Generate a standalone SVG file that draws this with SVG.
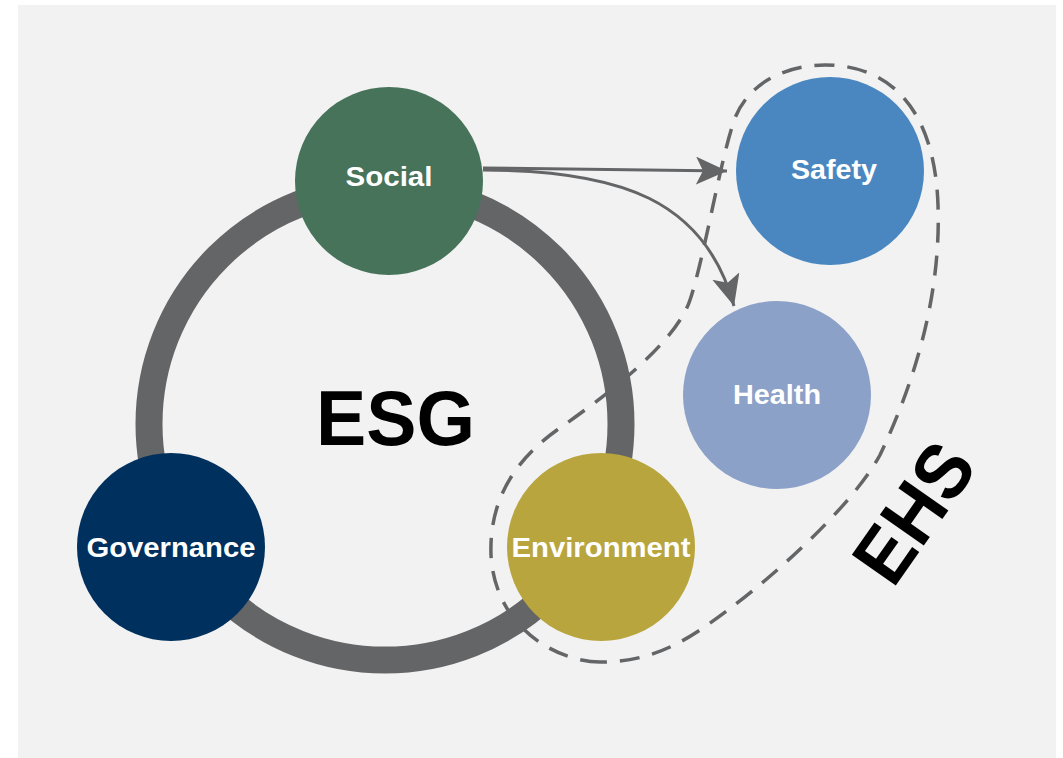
<svg xmlns="http://www.w3.org/2000/svg" width="1063" height="758" viewBox="0 0 1063 758">
  <style>
    .node-label { font-family: "Liberation Sans", Arial, sans-serif; font-weight: bold; font-size: 28px; fill: #ffffff; text-anchor: middle; }
    .big { font-family: "Liberation Sans", Arial, sans-serif; font-weight: bold; fill: #000000; text-anchor: middle; }
    .conn { fill: none; stroke: #646567; stroke-width: 3; }
    .dash { fill: none; stroke: #646567; stroke-width: 3.5; stroke-dasharray: 20 13; }
  </style>
  <defs>
    <marker id="arrow" markerUnits="userSpaceOnUse" markerWidth="34" markerHeight="30" refX="31" refY="14" orient="auto">
      <path d="M0,0 L31,14 L0,28 L7,14 Z" fill="#646567"/>
    </marker>
  </defs>
  <rect x="18" y="5" width="1038" height="753" fill="#f2f2f2"/>

  <g id="ring">
    <circle cx="385" cy="424" r="236" fill="none" stroke="#646567" stroke-width="27"/>
  </g>

  <g id="ehs-boundary">
    <path class="dash" d="M 600,662 C 560,662 495,630 491,555 C 489,500 515,460 557,430 C 600,400 675,345 690,300 C 705,255 720,160 735,118 C 750,80 790,65 825,65 C 895,65 935,115 938,205 C 941,290 918,375 880,455 C 850,510 760,590 700,630 C 670,650 640,662 600,662 Z"/>
  </g>

  <g id="connectors">
    <path class="conn" d="M 483,168 L 727,171" marker-end="url(#arrow)"/>
    <path class="conn" d="M 483,170 C 620,170 705,200 734,306" marker-end="url(#arrow)"/>
  </g>

  <g id="node-social">
    <circle cx="389" cy="181" r="94" fill="#46735a"/>
    <text class="node-label" x="389" y="186" textLength="87" lengthAdjust="spacingAndGlyphs">Social</text>
  </g>
  <g id="node-governance">
    <circle cx="171" cy="547" r="94" fill="#00305e"/>
    <text class="node-label" x="171" y="557" textLength="169" lengthAdjust="spacingAndGlyphs">Governance</text>
  </g>
  <g id="node-environment">
    <circle cx="601" cy="547" r="94" fill="#b8a53e"/>
    <text class="node-label" x="601" y="557" textLength="179" lengthAdjust="spacingAndGlyphs">Environment</text>
  </g>
  <g id="node-safety">
    <circle cx="830" cy="171" r="94" fill="#4a87c0"/>
    <text class="node-label" x="834" y="179" textLength="86" lengthAdjust="spacingAndGlyphs">Safety</text>
  </g>
  <g id="node-health">
    <circle cx="777" cy="395" r="94" fill="#8ca1c8"/>
    <text class="node-label" x="777" y="404" textLength="88" lengthAdjust="spacingAndGlyphs">Health</text>
  </g>

  <g id="label-esg">
    <text class="big" x="395.5" y="445" font-size="78" textLength="159" lengthAdjust="spacingAndGlyphs">ESG</text>
  </g>
  <g id="label-ehs">
    <text class="big" x="0" y="0" font-size="78" textLength="150" lengthAdjust="spacingAndGlyphs" transform="translate(936,528) rotate(-55)">EHS</text>
  </g>
</svg>
